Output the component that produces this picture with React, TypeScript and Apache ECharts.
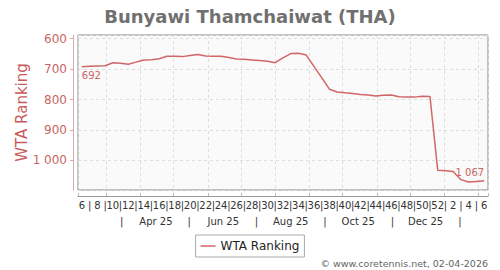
import React, { useEffect, useRef } from "react";
import * as echarts from "echarts";

const DAY = 86400000;
const FONT = "DejaVu Sans";

// ISO week numbers (week 6 of 2025 to week 6 of 2026)
const weeks = [
  6, 7, 8, 9, 10, 11, 12, 13, 14, 15, 16, 17, 18, 19, 20, 21, 22, 23, 24, 25, 26, 27, 28, 29, 30, 31,
  32, 33, 34, 35, 36, 37, 38, 39, 40, 41, 42, 43, 44, 45, 46, 47, 48, 49, 50, 51, 52, 1, 2, 3, 4, 5, 6,
];
// WTA ranking per week
const ranks = [
  692, 691, 690, 689, 679, 681, 684, 677, 670, 669, 666, 658, 658, 659, 655, 652, 657, 658, 658, 662,
  667, 668, 670, 672, 674, 679, 663, 649, 648, 654, 691, 728, 766, 775, 778, 780, 783, 785, 788, 786,
  785, 791, 792, 792, 789, 790, 1032, 1034, 1036, 1063, 1071, 1069, 1067,
];
const firstWeekDate = [2025, 1, 7]; // y, m(0-based), d of first point
const monthLabels = ["Apr 25", "Jun 25", "Aug 25", "Oct 25", "Dec 25"];
const monthLabelDays = ["2025-04-15", "2025-06-15", "2025-08-15", "2025-10-15", "2025-12-15"];
const separatorDays = ["2025-03-15", "2025-05-15", "2025-07-15", "2025-09-15", "2025-11-15", "2026-01-15"];

const pad = (n: number) => (n < 10 ? "0" + n : "" + n);
const fmtDay = (d: Date) => `${d.getFullYear()}-${pad(d.getMonth() + 1)}-${pad(d.getDate())}`;
const fmtRank = (v: number) => {
  const s = String(Math.round(v));
  return s.length > 3 ? s.slice(0, s.length - 3) + " " + s.slice(-3) : s;
};

export default function App() {
  const ref = useRef<HTMLDivElement>(null);
  useEffect(() => {
    if (!ref.current) return;
    document.body.style.margin = "0";
    const chart = echarts.init(ref.current, undefined, { renderer: "svg" });
    const dates = weeks.map((_, i) =>
      new Date(firstWeekDate[0], firstWeekDate[1], firstWeekDate[2] + 7 * i).getTime()
    );
    const xMin = dates[0] - 3.5 * DAY;
    const xMax = dates[dates.length - 1] + 3.5 * DAY;
    const nDays = Math.round((xMax - xMin) / DAY);
    const startDay = new Date(xMin + 0.5 * DAY);
    const days: string[] = [];
    for (let j = 0; j < nDays; j++) {
      days.push(
        fmtDay(new Date(startDay.getFullYear(), startDay.getMonth(), startDay.getDate() + j))
      );
    }
    const lineColor = "#d06666";
    const labelColor = "#c86464";
    const data = ranks.map((r, i) => {
      const item: any = { value: [dates[i], r] };
      if (i === 0) {
        item.label = { show: true, position: "bottom", align: "left", distance: 4 };
      } else if (i === ranks.length - 1) {
        item.label = { show: true, position: "top", align: "right", distance: 3 };
      }
      return item;
    });
    chart.setOption({
      animation: false,
      backgroundColor: "#ffffff",
      title: {
        text: "Bunyawi Thamchaiwat (THA)",
        left: "center",
        top: 2,
        textStyle: { fontSize: 18, fontWeight: "bold", color: "#707070", fontFamily: FONT },
      },
      grid: {
        left: 78,
        right: 12,
        top: 35,
        bottom: 80,
        show: true,
        backgroundColor: "#fafafa",
        borderColor: "#888888",
        borderWidth: 1,
      },
      legend: {
        top: 235,
        left: "center",
        padding: [5, 5],
        borderColor: "#aaaaaa",
        borderWidth: 1,
        itemWidth: 15,
        itemHeight: 12,
        itemGap: 5,
        textStyle: { fontSize: 12, color: "#222", fontFamily: FONT },
        data: [{ name: "WTA Ranking", icon: "path://M0,5 L15,5 L15,6.5 L0,6.5 Z" }],
      },
      xAxis: [
        {
          type: "time",
          min: xMin,
          max: xMax,
          position: "bottom",
          offset: 6,
          splitNumber: 12,
          minInterval: 28 * DAY,
          maxInterval: 31 * DAY,
          axisLine: { show: true, lineStyle: { color: "#999999", width: 1 } },
          axisTick: { show: true, inside: true, length: 3, lineStyle: { color: "#bbbbbb" } },
          axisLabel: { show: false },
          splitLine: { show: true, lineStyle: { color: "#dddddd", type: [3, 3], width: 1 } },
        },
        {
          type: "category",
          data: weeks.map(String),
          boundaryGap: true,
          position: "bottom",
          offset: 6,
          axisLine: { show: false },
          axisTick: { show: false },
          splitLine: { show: false },
          axisLabel: {
            show: true,
            interval: 0,
            margin: 4,
            fontSize: 10,
            color: "#333",
            fontFamily: FONT,
            formatter: (v: string) => (Number(v) % 2 === 0 ? v : "|"),
          },
        },
        {
          type: "category",
          data: days,
          boundaryGap: true,
          position: "bottom",
          offset: 6,
          axisLine: { show: false },
          axisTick: { show: false },
          splitLine: { show: false },
          axisLabel: {
            show: true,
            margin: 20,
            fontSize: 10,
            color: "#333",
            fontFamily: FONT,
            interval: (_i: number, v: string) =>
              monthLabelDays.indexOf(v) >= 0 || separatorDays.indexOf(v) >= 0,
            formatter: (v: string) => {
              const k = monthLabelDays.indexOf(v);
              if (k >= 0) return monthLabels[k];
              if (separatorDays.indexOf(v) >= 0) return "|";
              return "";
            },
          },
        },
      ],
      yAxis: {
        type: "value",
        inverse: true,
        min: 588,
        max: 1097,
        splitNumber: 5,
        position: "left",
        offset: 5,
        name: "WTA Ranking",
        nameLocation: "middle",
        nameGap: 44,
        nameMoveOverlap: false,
        nameTextStyle: { fontSize: 15, color: "#c85a5a", fontFamily: FONT },
        axisLine: { show: true, lineStyle: { color: "#dba8a8", width: 1 } },
        axisTick: { show: true, length: 3, lineStyle: { color: "#dba8a8" } },
        axisLabel: {
          show: true,
          margin: 6,
          fontSize: 12,
          color: labelColor,
          fontFamily: FONT,
          showMinLabel: false,
          showMaxLabel: false,
          formatter: (v: number) => fmtRank(v),
        },
        splitLine: { show: true, lineStyle: { color: "#dddddd", type: [3, 3], width: 1 } },
      },
      graphic: [
        {
          type: "text",
          right: 12,
          bottom: 2,
          style: {
            text: "© www.coretennis.net, 02-04-2026",
            fontSize: 9.5,
            fill: "#666666",
            fontFamily: FONT,
          },
        },
      ],
      series: [
        {
          name: "WTA Ranking",
          type: "line",
          xAxisIndex: 0,
          symbol: "circle",
          symbolSize: 0.1,
          showSymbol: true,
          showAllSymbol: true,
          data,
          lineStyle: { color: lineColor, width: 1.5 },
          itemStyle: { color: lineColor },
          label: {
            show: false,
            fontSize: 10,
            color: labelColor,
            fontFamily: FONT,
            formatter: (p: any) => fmtRank(p.value[1]),
          },
        },
      ],
    });
    return () => chart.dispose();
  }, []);
  return <div ref={ref} style={{ width: 500, height: 270 }} />;
}
